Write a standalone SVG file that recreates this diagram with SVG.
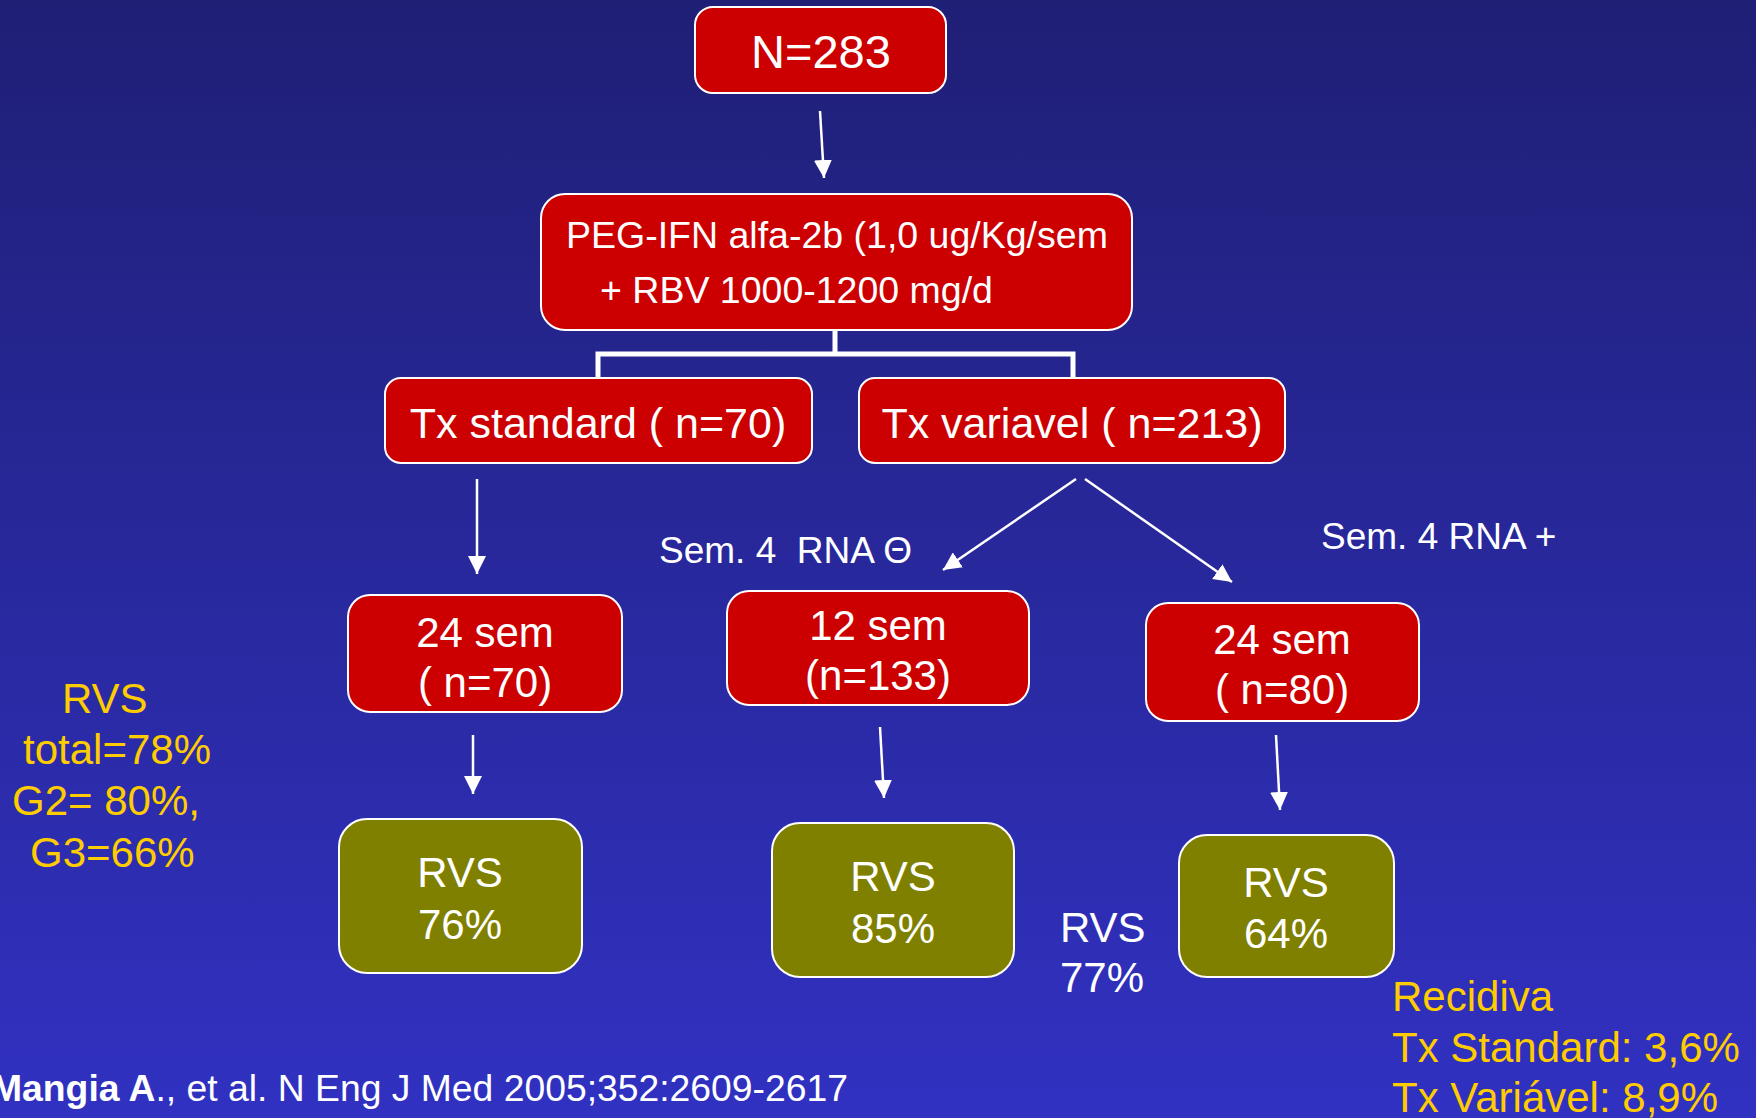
<svg xmlns="http://www.w3.org/2000/svg" width="1756" height="1118" viewBox="0 0 1756 1118">
<defs>
<linearGradient id="bg" x1="0" y1="0" x2="0" y2="1">
<stop offset="0" stop-color="#1F1F76"/>
<stop offset="1" stop-color="#3131C2"/>
</linearGradient>
<marker id="ah" markerUnits="userSpaceOnUse" markerWidth="18" markerHeight="18" refX="18" refY="9" orient="auto">
<path d="M0,0 L18,9 L0,18 z" fill="#FFFFFF"/>
</marker>
</defs>
<style>
.red{fill:#CC0000;stroke:#FFFFFF;stroke-width:2}
.olive{fill:#808000;stroke:#FFFFFF;stroke-width:2}
.t{font-family:"Liberation Sans",Arial,sans-serif;fill:#FFFFFF}
.y{font-family:"Liberation Sans",Arial,sans-serif;fill:#FFCC00;font-size:42px}
.arr{stroke:#FFFFFF;stroke-width:2.5;fill:none;marker-end:url(#ah)}
.br{stroke:#FFFFFF;stroke-width:5;fill:none}
</style>
<rect x="0" y="0" width="1756" height="1118" fill="url(#bg)"/>

<g id="connectors">
<line class="arr" x1="820" y1="111" x2="824" y2="178"/>
<polyline class="br" points="598,378 598,354 1073,354 1073,378"/>
<line class="br" x1="835" y1="330" x2="835" y2="356"/>
<line class="arr" x1="477" y1="479" x2="477" y2="574"/>
<line class="arr" x1="1076" y1="479" x2="943" y2="570"/>
<line class="arr" x1="1085" y1="479" x2="1232" y2="582"/>
<line class="arr" x1="473" y1="735" x2="473" y2="794"/>
<line class="arr" x1="880" y1="727" x2="884" y2="798"/>
<line class="arr" x1="1276" y1="735" x2="1280" y2="810"/>
</g>

<g id="n283">
<rect class="red" x="695" y="7" width="251" height="86" rx="18"/>
<text class="t" x="821" y="68" font-size="47" text-anchor="middle">N=283</text>
</g>

<g id="peg">
<rect class="red" x="541" y="194" width="591" height="136" rx="24"/>
<text class="t" x="566" y="248" font-size="37.5">PEG-IFN alfa-2b (1,0 ug/Kg/sem</text>
<text class="t" x="600" y="303" font-size="37.5">+ RBV 1000-1200 mg/d</text>
</g>

<g id="txstandard">
<rect class="red" x="385" y="378" width="427" height="85" rx="16"/>
<text class="t" x="598" y="438" font-size="43" text-anchor="middle">Tx standard ( n=70)</text>
</g>

<g id="txvariavel">
<rect class="red" x="859" y="378" width="426" height="85" rx="16"/>
<text class="t" x="1072" y="438" font-size="43" text-anchor="middle">Tx variavel ( n=213)</text>
</g>

<g id="label-neg">
<text class="t" x="659" y="563" font-size="37" xml:space="preserve">Sem. 4  RNA Θ</text>
</g>
<g id="label-pos">
<text class="t" x="1321" y="549" font-size="37">Sem. 4 RNA +</text>
</g>

<g id="s24a">
<rect class="red" x="348" y="595" width="274" height="117" rx="22"/>
<text class="t" x="485" y="647" font-size="42" text-anchor="middle">24 sem</text>
<text class="t" x="485" y="697" font-size="42" text-anchor="middle">( n=70)</text>
</g>

<g id="s12">
<rect class="red" x="727" y="591" width="302" height="114" rx="22"/>
<text class="t" x="878" y="640" font-size="42" text-anchor="middle">12 sem</text>
<text class="t" x="878" y="690" font-size="42" text-anchor="middle">(n=133)</text>
</g>

<g id="s24b">
<rect class="red" x="1146" y="603" width="273" height="118" rx="22"/>
<text class="t" x="1282" y="654" font-size="42" text-anchor="middle">24 sem</text>
<text class="t" x="1282" y="704" font-size="42" text-anchor="middle">( n=80)</text>
</g>

<g id="rvs76">
<rect class="olive" x="339" y="819" width="243" height="154" rx="28"/>
<text class="t" x="460" y="887" font-size="42" text-anchor="middle">RVS</text>
<text class="t" x="460" y="939" font-size="42" text-anchor="middle">76%</text>
</g>

<g id="rvs85">
<rect class="olive" x="772" y="823" width="242" height="154" rx="28"/>
<text class="t" x="893" y="891" font-size="42" text-anchor="middle">RVS</text>
<text class="t" x="893" y="943" font-size="42" text-anchor="middle">85%</text>
</g>

<g id="rvs64">
<rect class="olive" x="1179" y="835" width="215" height="142" rx="28"/>
<text class="t" x="1286" y="897" font-size="42" text-anchor="middle">RVS</text>
<text class="t" x="1286" y="948" font-size="42" text-anchor="middle">64%</text>
</g>

<g id="rvs77">
<text class="t" x="1060" y="942" font-size="42">RVS</text>
<text class="t" x="1060" y="992" font-size="42">77%</text>
</g>

<g id="rvs-total">
<text class="y" x="62" y="713">RVS</text>
<text class="y" x="23" y="764">total=78%</text>
<text class="y" x="12" y="815">G2= 80%,</text>
<text class="y" x="30" y="867">G3=66%</text>
</g>

<g id="recidiva">
<text class="y" x="1392" y="1011">Recidiva</text>
<text class="y" x="1392" y="1062">Tx Standard: 3,6%</text>
<text class="y" x="1392" y="1112">Tx Variável: 8,9%</text>
</g>

<g id="citation">
<text class="t" x="-9" y="1101" font-size="37.3"><tspan font-weight="bold">Mangia A</tspan>., et al. N Eng J Med 2005;352:2609-2617</text>
</g>
</svg>
